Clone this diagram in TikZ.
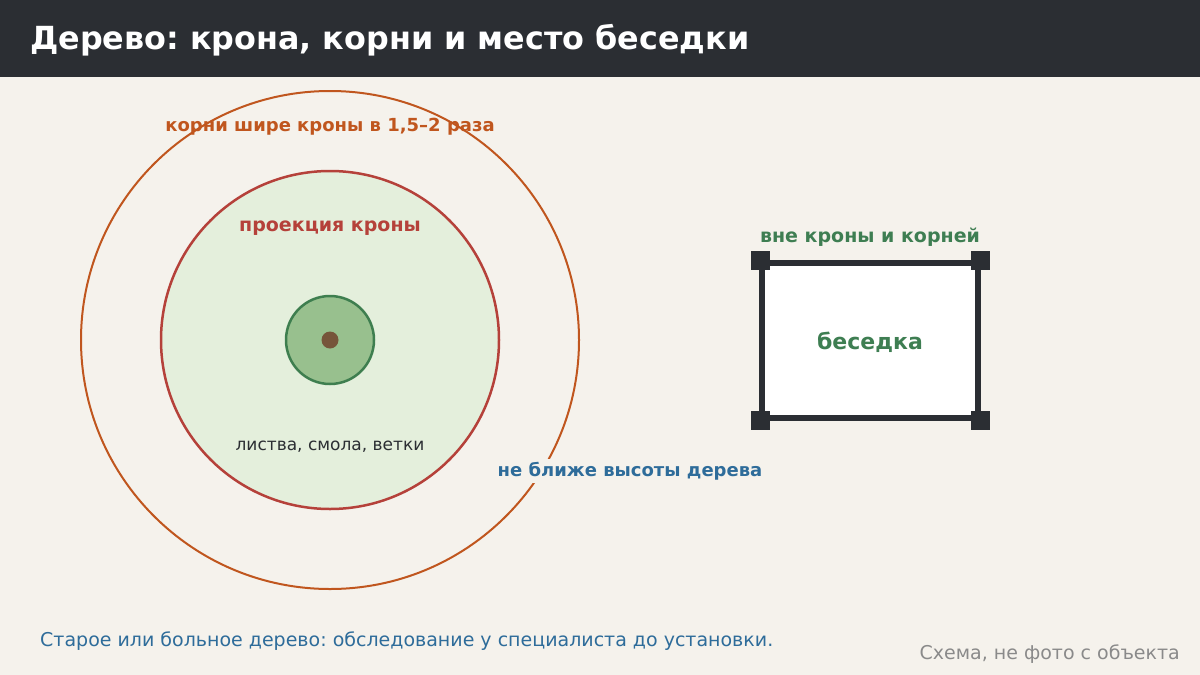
\documentclass[tikz,border=0pt]{standalone}
\usepackage{fontspec}
\setmainfont{DejaVu Sans}
\frenchspacing
\definecolor{hdr}{HTML}{2B2E33}
\definecolor{bg}{HTML}{F5F2EC}
\definecolor{rootc}{HTML}{C0561E}
\definecolor{crownc}{HTML}{B5413A}
\definecolor{crownf}{HTML}{E4EFDC}
\definecolor{innerf}{HTML}{98C08E}
\definecolor{innerc}{HTML}{3E7E4F}
\definecolor{trunk}{HTML}{76553A}
\definecolor{bluet}{HTML}{2E6C9A}
\definecolor{greent}{HTML}{3E7E52}
\definecolor{grayt}{HTML}{8A8A8A}
\definecolor{darkt}{HTML}{2B2E33}
\begin{document}
\begin{tikzpicture}[x=1pt,y=-1pt,
  lbl/.style={inner sep=1pt,font=\fontsize{19}{22}\selectfont\bfseries},
  corner/.style={fill=hdr,minimum size=19pt,inner sep=0pt,draw=none}]
\useasboundingbox (0,0) rectangle (1200,675);
\fill[bg] (0,0) rectangle (1200,675);
\fill[hdr] (0,0) rectangle (1200,77);
\node[anchor=west,text=white,font=\fontsize{31.8}{36}\selectfont\bfseries,inner sep=0pt] (title) at (30,40) {Дерево: крона, корни и место беседки};
% circles
\node[circle,draw=rootc,line width=2pt,minimum size=498pt,inner sep=0pt] (roots) at (330,340) {};
\node[circle,draw=crownc,fill=crownf,line width=2.5pt,minimum size=338pt,inner sep=0pt] (crown) at (330,340) {};
\node[circle,draw=innerc,fill=innerf,line width=2.5pt,minimum size=88pt,inner sep=0pt] (stem) at (330,340) {};
\node[circle,fill=trunk,minimum size=17pt,inner sep=0pt] (trunkn) at (330,340) {};
\node[lbl,text=rootc,font=\fontsize{18}{21}\selectfont\bfseries] (rootlbl) at (330,127) {корни шире кроны в 1,5–2 раза};
\node[lbl,text=crownc] (crownlbl) at (330,228) {проекция кроны};
\node[inner sep=1pt,text=darkt,font=\fontsize{17}{20}\selectfont] (leaves) at (330,447) {листва, смола, ветки};
\node[lbl,text=bluet,fill=bg,inner sep=3pt,font=\fontsize{18}{21}\selectfont\bfseries] (dist) at (630,471) {не ближе высоты дерева};
% gazebo
\draw[hdr,line width=6pt,fill=white] (762,263) rectangle (978,418);
\node[inner sep=0pt,minimum width=216pt,minimum height=155pt] (gaz) at (870,340.5) {};
\node[corner] (c1) at (760.5,260.5) {};
\node[corner] (c2) at (980.5,260.5) {};
\node[corner] (c3) at (760.5,420.5) {};
\node[corner] (c4) at (980.5,420.5) {};
\node[lbl,text=greent,font=\fontsize{22}{26}\selectfont\bfseries] (gazlbl) at (870,342) {беседка};
\node[lbl,text=greent] (gazpos) at (870,237) {вне кроны и корней};
% footer
\node[anchor=west,inner sep=0pt,text=bluet,font=\fontsize{19}{22}\selectfont] (note) at (40,641) {Старое или больное дерево: обследование у специалиста до установки.};
\node[anchor=east,inner sep=0pt,text=grayt,font=\fontsize{19}{22}\selectfont] (src) at (1180,654) {Схема, не фото с объекта};
\end{tikzpicture}
\end{document}
